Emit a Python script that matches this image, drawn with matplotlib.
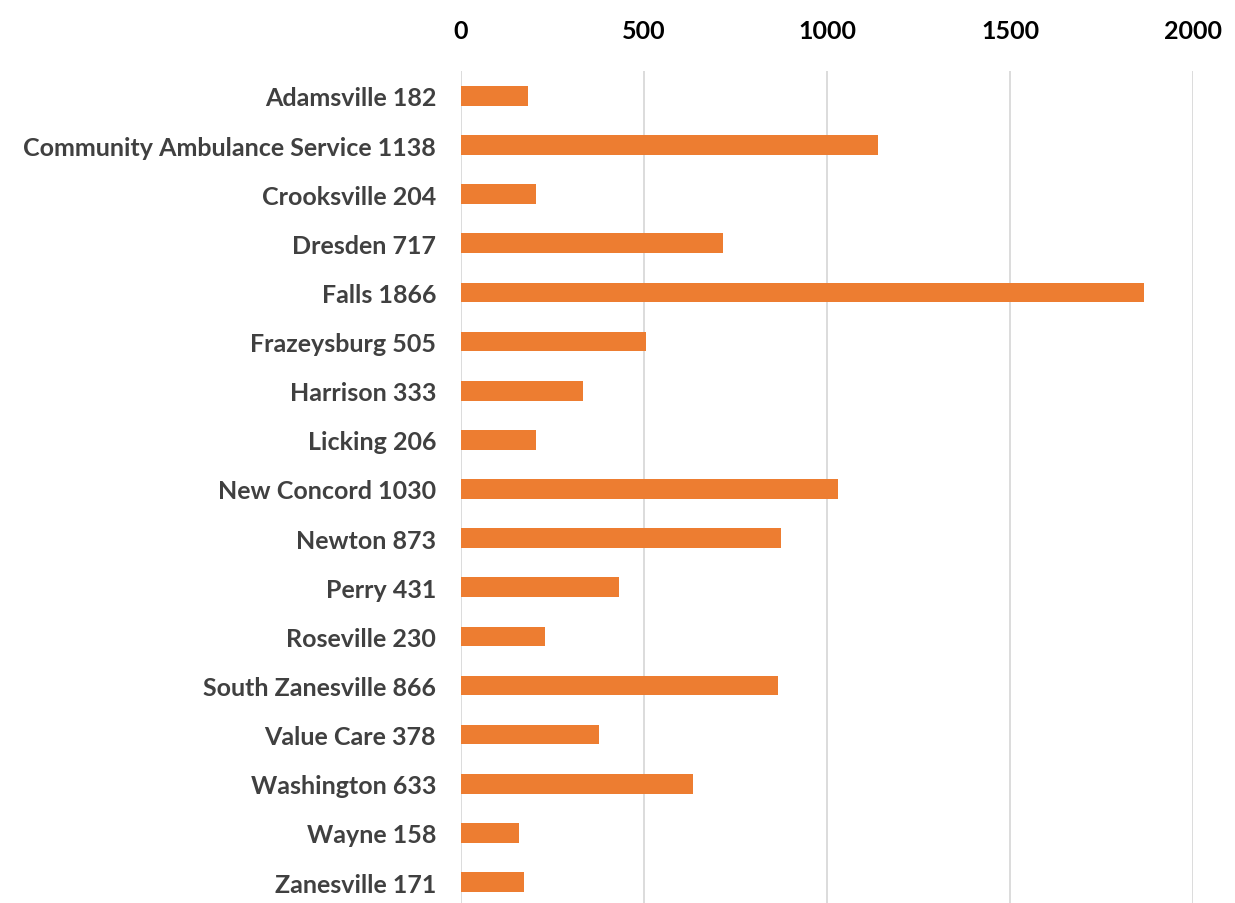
import matplotlib
matplotlib.use("Agg")
from matplotlib import pyplot as plt

names = ["Adamsville", "Community Ambulance Service", "Crooksville", "Dresden",
         "Falls", "Frazeysburg", "Harrison", "Licking", "New Concord", "Newton",
         "Perry", "Roseville", "South Zanesville", "Value Care", "Washington",
         "Wayne", "Zanesville"]
runs = [182, 1138, 204, 717, 1866, 505, 333, 206, 1030, 873,
        431, 230, 866, 378, 633, 158, 171]
xticks = [0, 500, 1000, 1500, 2000]

labels = [f"{n} {v}" for n, v in zip(names, runs)]

plt.rcParams['font.family'] = ['Lato', 'DejaVu Sans']

fig = plt.figure(figsize=(12.35, 9.04), dpi=100)
ax = fig.add_axes([0.3733, -0.004, 0.5927, 0.924])

ypos = list(range(len(runs)))
ax.barh(ypos, runs, height=0.4, color='#ED7D31', zorder=3)
ax.set_ylim(len(runs) - 0.5, -0.5)
ax.set_xlim(0, 2000)

ax.set_yticks(ypos)
ax.set_yticklabels(labels, fontsize=18, fontweight='bold', color='#404040')
ax.set_xticks(xticks)
ax.set_xticklabels([str(t) for t in xticks], fontsize=18, fontweight='bold', color='black')
ax.xaxis.tick_top()
ax.tick_params(axis='both', length=0)
ax.tick_params(axis='x', pad=21)
ax.tick_params(axis='y', pad=18)

ax.grid(axis='x', color='#d9d9d9', linewidth=1.3, zorder=0)
for s in ax.spines.values():
    s.set_visible(False)

fig.savefig("out.png", dpi=100)
